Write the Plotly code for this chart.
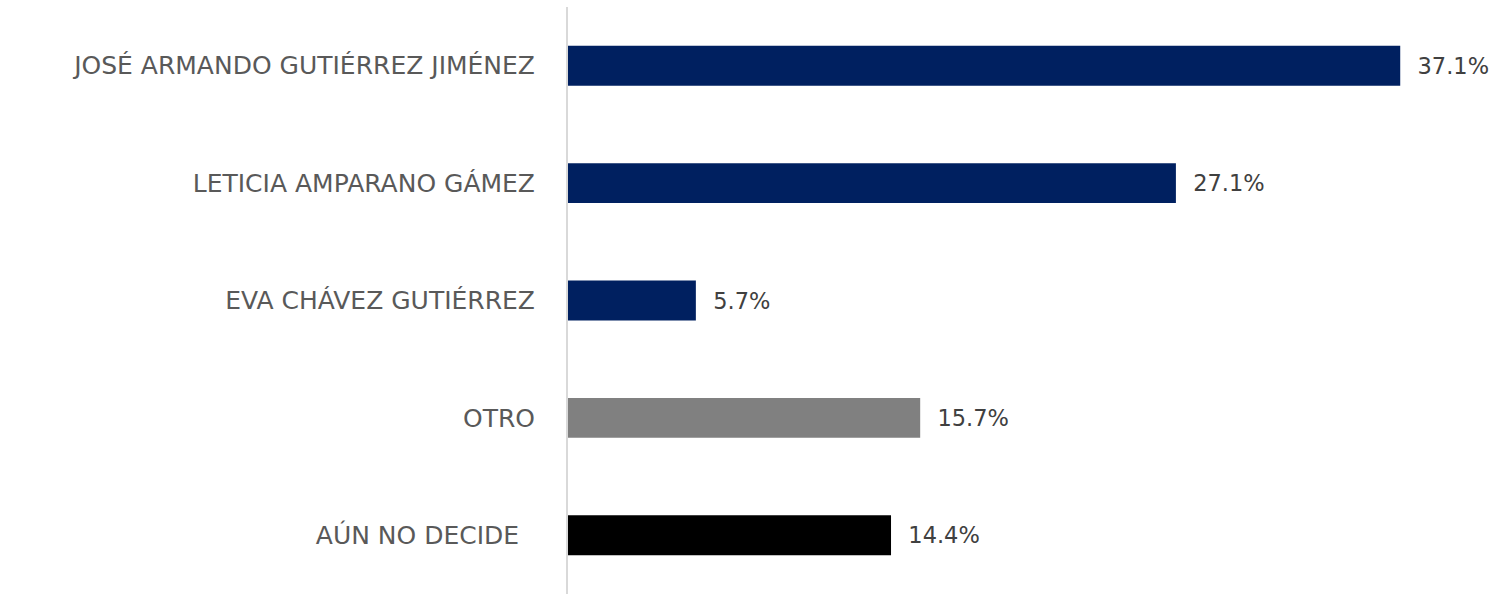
import plotly.graph_objects as go

# Candidates and vote share (%)
categories = [
    "JOSÉ ARMANDO GUTIÉRREZ JIMÉNEZ",
    "LETICIA AMPARANO GÁMEZ",
    "EVA CHÁVEZ GUTIÉRREZ",
    "OTRO",
    "AÚN NO DECIDE\u00a0\u00a0",
]
values = [37.1, 27.1, 5.7, 15.7, 14.4]
colors = ["#002060", "#002060", "#002060", "#808080", "#000000"]

FONT = "DejaVu Sans, sans-serif"

fig = go.Figure(
    go.Bar(
        x=values,
        y=categories,
        orientation="h",
        marker=dict(color=colors, line=dict(width=0)),
        width=0.34,
        text=values,
        texttemplate="\u00a0\u00a0%{x:.1f}%",
        textposition="outside",
        textfont=dict(family=FONT, size=22.5, color="#404040"),
        cliponaxis=False,
        hoverinfo="skip",
    )
)

fig.update_layout(
    width=1494,
    height=594,
    margin=dict(l=568, r=0, t=7, b=0),
    paper_bgcolor="white",
    plot_bgcolor="white",
    showlegend=False,
    xaxis=dict(
        range=[0, 41.28],
        visible=False,
        showgrid=False,
        zeroline=False,
    ),
    yaxis=dict(
        autorange="reversed",
        showgrid=False,
        zeroline=False,
        showline=True,
        linecolor="#d9d9d9",
        linewidth=2,
        ticks="",
        ticklabelstandoff=26,
        tickfont=dict(family=FONT, size=25, color="#595959"),
    ),
)

fig.write_html("out.html")
